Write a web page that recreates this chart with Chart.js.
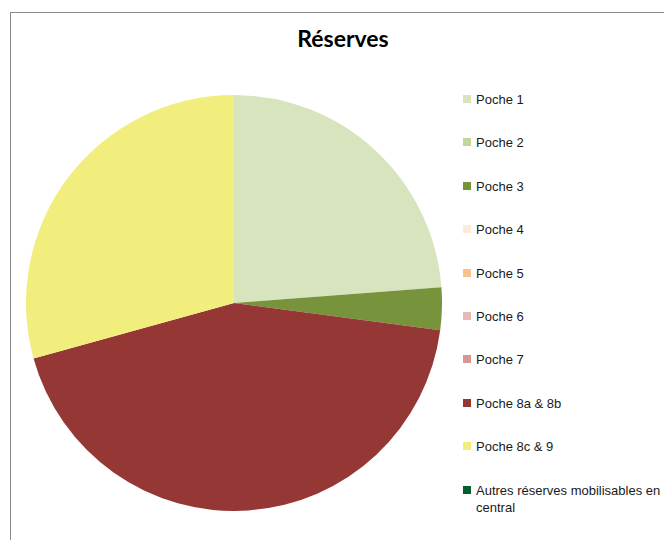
<!DOCTYPE html>
<html>
<head>
<meta charset="utf-8">
<script src="https://cdn.jsdelivr.net/npm/chart.js@4"></script>
<style>
  body { margin: 0; background: #fff; width: 664px; height: 540px; overflow: hidden; position: relative; }
  #cadre { position: absolute; left: 10px; top: 12px; width: 700px; height: 600px; border: 1px solid #8a8a8a; }
  #titre { position: absolute; left: 0; width: 686px; top: 24px; text-align: center;
           font: bold 23px Lato, "Open Sans", sans-serif; color: #000; }
  #graficoReserves { position: absolute; left: 26px; top: 95px; }
  #legende { position: absolute; left: 463px; top: 0; font: 13px "Liberation Sans", Arial, sans-serif; color: #1a1a1a; }
  .item { position: absolute; left: 0; width: 200px; line-height: 17px; }
  .carre { position: absolute; left: 0; top: 4px; width: 8px; height: 8px; }
  .texte { position: absolute; left: 13px; top: 0; width: 190px; }
</style>
</head>
<body>
<div id="cadre"></div>
<div id="titre">Réserves</div>
<canvas id="graficoReserves" width="416" height="416"></canvas>
<div id="legende"></div>
<script>
// Donnees
var titre = 'Réserves';
var poches = ['Poche 1', 'Poche 2', 'Poche 3', 'Poche 4', 'Poche 5', 'Poche 6', 'Poche 7',
  'Poche 8a & 8b', 'Poche 8c & 9', 'Autres réserves mobilisables en central'];
var reserves = [23.8, 0, 3.3, 0, 0, 0, 0, 43.6, 29.3, 0];
var couleurs = ['#D7E4BD', '#C3D69B', '#77933C', '#FDEADA', '#FAC090', '#E6B9B8', '#D99694',
  '#953735', '#F2EE7D', '#00602B'];

document.getElementById('titre').textContent = titre;

// legende a droite
var leg = document.getElementById('legende');
for (i = 0; i < poches.length; i++) {
  var item = document.createElement('div');
  item.className = 'item';
  item.style.top = (91 + i * 43.4) + 'px';
  var carre = document.createElement('div');
  carre.className = 'carre';
  carre.style.background = couleurs[i];
  var texte = document.createElement('div');
  texte.className = 'texte';
  texte.textContent = poches[i];
  item.appendChild(carre);
  item.appendChild(texte);
  leg.appendChild(item);
}

var ctx = document.getElementById('graficoReserves').getContext('2d');
var chart = new Chart(ctx, {
  type: 'pie',
  data: {
    labels: poches,
    datasets: [{
      data: reserves,
      backgroundColor: couleurs,
      borderWidth: 0
    }]
  },
  options: {
    responsive: false,
    animation: false,
    layout: { padding: 0 },
    plugins: {
      legend: { display: false },
      tooltip: { enabled: false }
    }
  }
});
</script>
</body>
</html>
